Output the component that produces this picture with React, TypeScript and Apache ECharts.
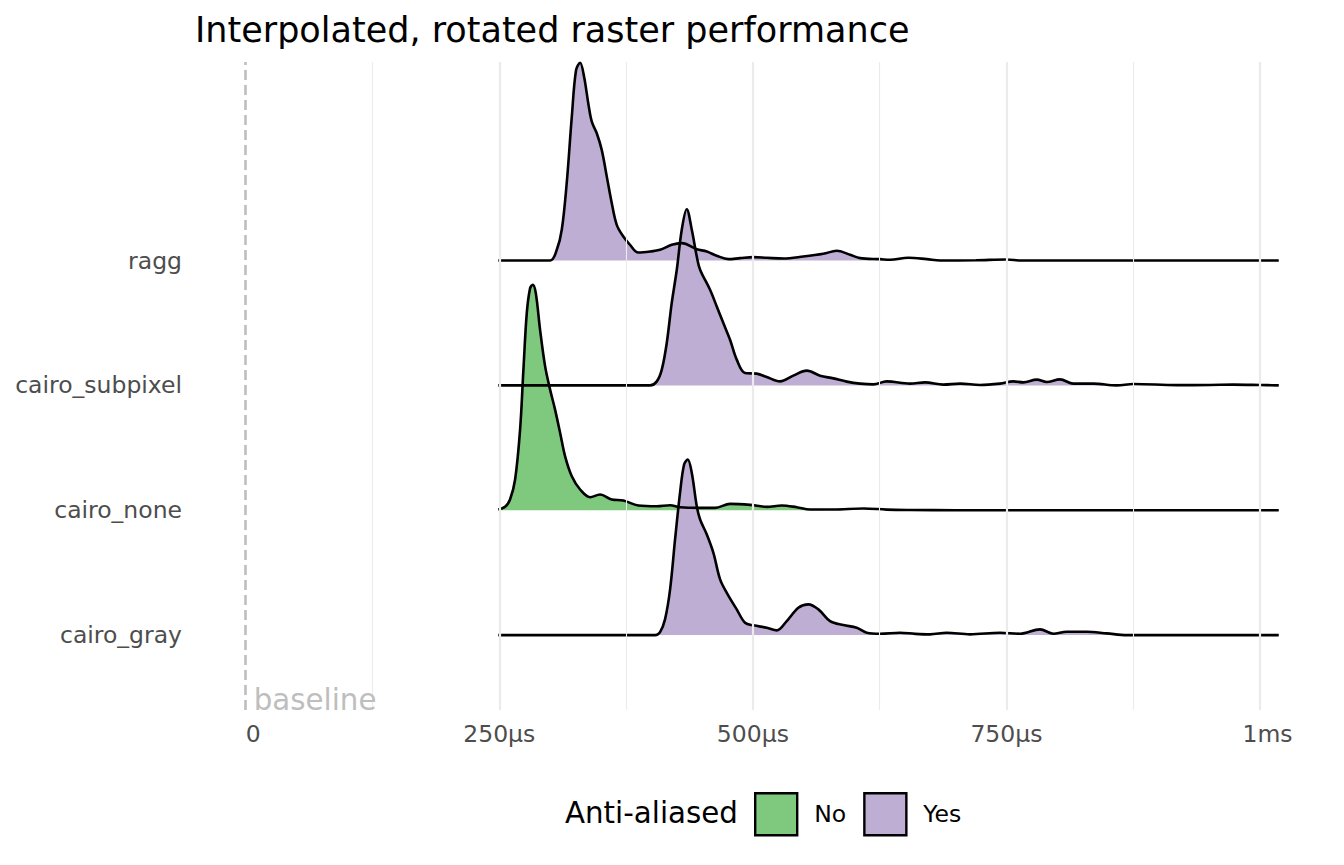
import React, { useEffect, useRef } from 'react';
import * as echarts from 'echarts';

const TITLE = 'Interpolated, rotated raster performance';
// bottom to top
const CATEGORIES = ['cairo_gray', 'cairo_none', 'cairo_subpixel', 'ragg'];
const X_TICKS = [0, 250, 500, 750, 1000];
const X_MINOR = [125, 375, 625, 875];
const LEGEND_TITLE = 'Anti-aliased';
const LEGEND_ITEMS = ['No', 'Yes'];
const FILL_COLORS: Record<string, string> = { No: '#7fc97f', Yes: '#beaed4' };
const BASELINE_LABEL = 'baseline';
const BASELINE_VALUE = 0;

// densities (height of ridge, in % of ridge spacing) at time in µs
const RAGG_X = [249, 300, 306.7, 311.6, 316.5, 321.5, 325.7, 329.7, 333.6, 337.8, 341.2, 346.1, 351, 356, 360.9, 365.8, 372.3, 378.9, 387.1, 398.7, 408.5, 420, 429.9, 444.7, 454.6, 464.4, 475.8, 487.4, 500.5, 513.7, 530.1, 549.8, 569.5, 582.7, 595.8, 605.7, 625.4, 635.2, 653.3, 671.4, 684.6, 720, 750, 765, 800, 900, 1018.5];
const RAGG_D = [0, 0, 8.6, 24.6, 62.2, 115.2, 152.6, 158.4, 147.2, 125.6, 111.2, 101.9, 88.6, 67.2, 45.9, 28.6, 19.2, 12.6, 6.4, 7.2, 8.6, 12.6, 13.9, 9.1, 7.2, 3.8, 1.1, 1.9, 2.7, 2.2, 1.6, 3.2, 5.4, 7.8, 4.6, 1.9, 1.1, 0.6, 2.2, 1.1, 0, 0.2, 0.8, 0, 0, 0, 0];
const RAGG_AA = 'Yes';
const RAGG_FILL_END = 640;

const SUBPIXEL_X = [249, 398.7, 405.3, 410.2, 415.1, 420, 425, 429.9, 434.8, 439.8, 444.7, 448, 457.8, 464.4, 470.9, 477.5, 484.1, 492.3, 503.8, 513.7, 526.8, 539.9, 553.1, 566.2, 579.4, 592.6, 605.7, 618.8, 632, 654.9, 669.8, 687.8, 704.3, 724, 743.7, 756.8, 766.7, 779.9, 789.7, 802.8, 815.9, 835.7, 858.7, 875.1, 917.9, 950.7, 973.7, 1000, 1018.5];
const SUBPIXEL_D = [0, 0, 3.2, 12.6, 33.9, 65.9, 92.6, 124.6, 141.1, 124.6, 103.2, 92.6, 76.6, 63.2, 49.9, 36.6, 20.6, 9.9, 9.4, 6.7, 3.2, 7.8, 11.8, 7.8, 5.6, 3.0, 1.4, 0.8, 3.2, 1.4, 2.4, 0.6, 1.4, 0.3, 1.4, 3.2, 2.4, 4.6, 2.7, 4.8, 1.4, 1.4, 0, 1.1, 0.2, 0.3, 0.6, 0.3, 0];
const SUBPIXEL_AA = 'Yes';
const SUBPIXEL_FILL_END = 840;

const NONE_X = [249, 255.7, 260.6, 265.6, 270.5, 273.8, 277.1, 280.4, 283, 286, 290.2, 295.2, 300.1, 305, 310, 314.9, 321.5, 329.7, 339.6, 349.4, 360.9, 372.3, 387.1, 405.3, 418.4, 428.2, 447.9, 462.7, 477.5, 497.2, 513.7, 528.5, 543.3, 556.4, 579.4, 609, 632, 655, 700, 1018.5];
const NONE_D = [0.6, 2.7, 8.6, 24.6, 64.6, 112.6, 157.9, 177.9, 180.6, 173.9, 144.6, 115.2, 96.6, 80.6, 61.9, 43.2, 27.2, 16.6, 10.4, 12.6, 8.6, 7.8, 3.8, 3.2, 4.0, 2.4, 1.9, 1.9, 5.1, 4.3, 2.7, 3.8, 2.4, 0.6, 0.6, 1.4, 0.5, 0.2, 0, 0];
const NONE_AA = 'No';
const NONE_FILL_END = 560;

const GRAY_X = [249, 403.6, 408.5, 413.4, 418.4, 423.3, 428.2, 432.2, 435.8, 439.8, 444.7, 448, 454.6, 461.1, 467.7, 474.3, 484.1, 492.3, 500.5, 513.7, 523.6, 533.4, 544.9, 554.7, 564.6, 576.1, 589.2, 602.4, 612.3, 625.4, 645.1, 660, 674.7, 691.1, 714.1, 743.7, 763.4, 783.1, 796.2, 809.4, 829.1, 848.9, 868.6, 1018.5];
const GRAY_D = [0, 0, 2.4, 12.6, 36.6, 76.6, 113.9, 136.6, 140.6, 129.9, 103.2, 92.6, 80.6, 65.9, 44.6, 33.9, 20.6, 9.9, 7.8, 5.9, 3.8, 11.2, 21.9, 24.6, 20.6, 11.2, 8.0, 5.9, 1.9, 1.1, 1.9, 1.0, 0.6, 1.9, 0.6, 1.9, 1.1, 4.6, 1.1, 2.7, 2.7, 1.4, 0, 0];
const GRAY_AA = 'Yes';
const GRAY_FILL_END = 850;

const X_MIN = -50;
const X_MAX = 1070;
const Y_MIN = 0.4;
const Y_MAX = 5.59;

const FONT = 'DejaVu Sans';
const AXIS_COLOR = '#4d4d4d';
const SMOOTH = 0.35;

// drawn top ridge first so lower ridges overlap it
const RIDGES = [
  { name: 'ragg', x: RAGG_X, d: RAGG_D, aa: RAGG_AA, fillEnd: RAGG_FILL_END },
  { name: 'cairo_subpixel', x: SUBPIXEL_X, d: SUBPIXEL_D, aa: SUBPIXEL_AA, fillEnd: SUBPIXEL_FILL_END },
  { name: 'cairo_none', x: NONE_X, d: NONE_D, aa: NONE_AA, fillEnd: NONE_FILL_END },
  { name: 'cairo_gray', x: GRAY_X, d: GRAY_D, aa: GRAY_AA, fillEnd: GRAY_FILL_END },
];

function buildOption() {
  const series: any[] = [];
  series.push({
    type: 'line',
    name: '__grid',
    data: [[X_MIN, Y_MIN]],
    symbol: 'none',
    lineStyle: { opacity: 0 },
    silent: true,
    z: 1,
    markLine: {
      silent: true,
      symbol: ['none', 'none'],
      label: { show: false },
      data: [
        ...X_MINOR.map((v) => ({ xAxis: v, lineStyle: { color: '#ebebeb', width: 1.1, type: 'solid' } })),
        ...X_TICKS.filter((v) => v > 0).map((v) => ({ xAxis: v, lineStyle: { color: '#ebebeb', width: 2.2, type: 'solid' } })),
        { xAxis: BASELINE_VALUE, lineStyle: { color: '#bebebe', width: 2.6, type: [10, 5] } },
      ],
    },
    markPoint: {
      silent: true,
      symbol: 'circle',
      symbolSize: 0,
      data: [{ coord: [BASELINE_VALUE, Y_MIN] }],
      label: {
        show: true,
        formatter: BASELINE_LABEL,
        position: [8, 4],
        align: 'left',
        verticalAlign: 'bottom',
        color: '#bebebe',
        fontSize: 29.3,
        fontFamily: FONT,
      },
    },
  });

  RIDGES.forEach((r) => {
    const offset = CATEGORIES.indexOf(r.name) + 1;
    const pts = r.x.map((x, i) => [x, offset + r.d[i] / 100]);
    const fillPts = pts.map((p) => (p[0] <= r.fillEnd ? p : [p[0], offset]));
    const color = FILL_COLORS[r.aa];
    series.push({
      type: 'line',
      name: r.aa,
      data: fillPts,
      symbol: 'none',
      smooth: SMOOTH,
      silent: true,
      z: 2,
      lineStyle: { width: 0, opacity: 0 },
      itemStyle: { color },
      areaStyle: { color, opacity: 1, origin: offset },
    });
    series.push({
      type: 'line',
      name: r.name + ' density',
      data: pts,
      symbol: 'none',
      smooth: SMOOTH,
      silent: true,
      z: 2,
      lineStyle: { width: 2.6, color: '#000000' },
      itemStyle: { color: '#000000' },
    });
  });

  return {
    animation: false,
    backgroundColor: '#ffffff',
    textStyle: { fontFamily: FONT },
    title: [
      {
        text: TITLE,
        left: 195,
        top: 12,
        padding: 0,
        textStyle: { fontSize: 35, fontWeight: 'normal', color: '#000000', fontFamily: FONT },
      },
      {
        text: LEGEND_TITLE,
        left: 565,
        top: 798,
        padding: 0,
        textStyle: { fontSize: 29.3, fontWeight: 'normal', color: '#000000', fontFamily: FONT },
      },
    ],
    legend: {
      data: LEGEND_ITEMS.map((n) => ({
        name: n,
        icon: 'rect',
        itemStyle: { color: FILL_COLORS[n], borderColor: '#000000', borderWidth: 2.4 },
      })),
      left: 754,
      top: 792,
      padding: 0,
      itemWidth: 42,
      itemHeight: 42,
      itemGap: 17,
      selectedMode: false,
      textStyle: { fontSize: 23.5, color: '#000000', fontFamily: FONT, padding: [0, 0, 0, 12] },
    },
    grid: { left: 195, right: 13, top: 62, bottom: 155, containLabel: false },
    xAxis: {
      type: 'value',
      min: X_MIN,
      max: X_MAX,
      axisLine: { show: false },
      axisTick: { show: false },
      splitLine: { show: false },
      axisLabel: {
        customValues: X_TICKS,
        color: AXIS_COLOR,
        fontSize: 23.5,
        fontFamily: FONT,
        margin: 12,
        formatter: (v: number) =>
          v === 0 ? '{pad|0}' : v >= 1000 ? `{pad|${v / 1000}ms}` : `${v}µs`,
        rich: {
          pad: { padding: [0, 0, 0, 15], color: AXIS_COLOR, fontSize: 23.5, fontFamily: FONT },
        },
      },
    },
    yAxis: {
      type: 'value',
      min: Y_MIN,
      max: Y_MAX,
      axisLine: { show: false },
      axisTick: { show: false },
      splitLine: { show: false },
      axisLabel: {
        customValues: CATEGORIES.map((_, i) => i + 1),
        color: AXIS_COLOR,
        fontSize: 23.5,
        fontFamily: FONT,
        margin: 13,
        formatter: (v: number) => CATEGORIES[Math.round(v) - 1] ?? '',
      },
    },
    series,
  };
}

export default function App() {
  const ref = useRef<HTMLDivElement>(null);
  useEffect(() => {
    if (!ref.current) return;
    const chart = echarts.init(ref.current, undefined, { renderer: 'svg' });
    chart.setOption(buildOption() as any);
    return () => chart.dispose();
  }, []);
  return (
    <div
      ref={ref}
      style={{ position: 'fixed', left: 0, top: 0, width: 1344, height: 865, background: '#ffffff' }}
    />
  );
}
